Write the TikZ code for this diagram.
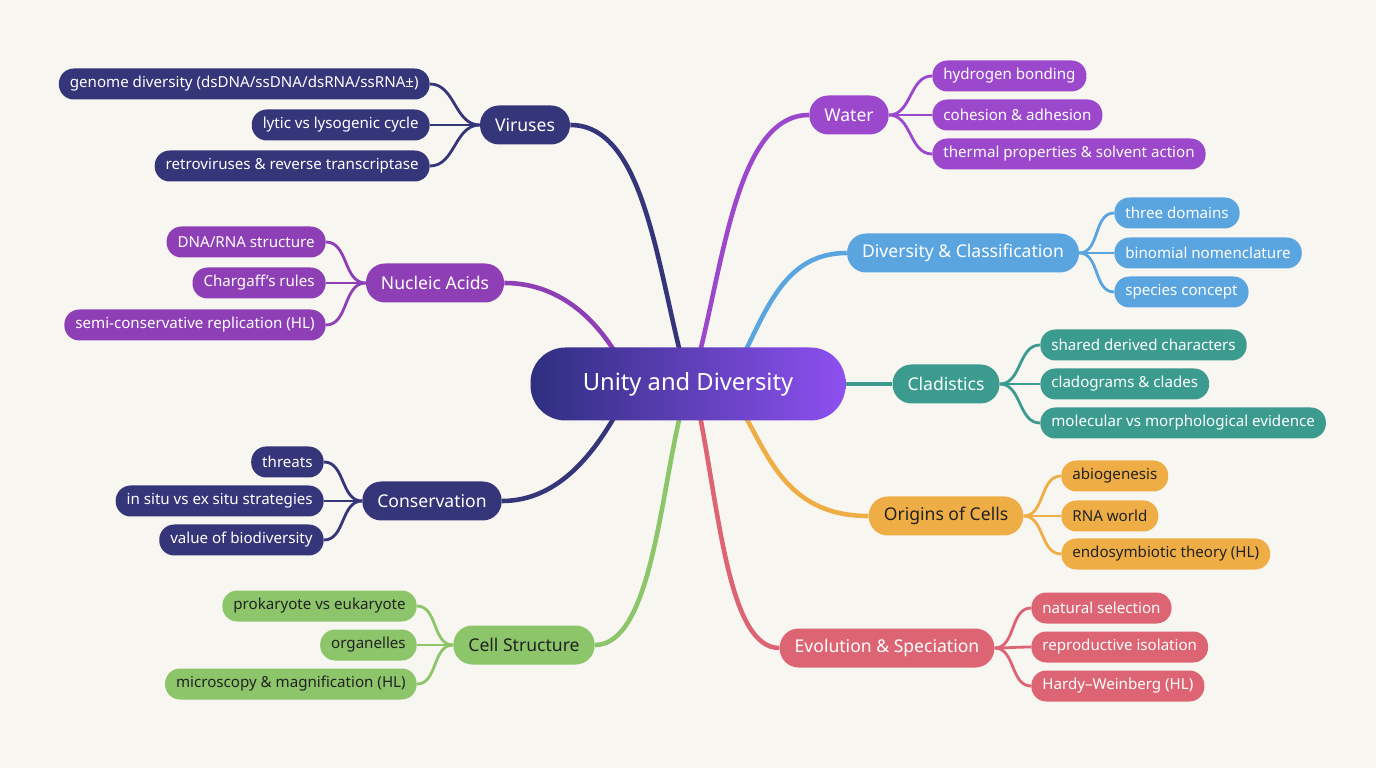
\documentclass[tikz,border=0pt]{standalone}
\usepackage{fontspec}
\setmainfont{Noto Sans}
\definecolor{bgcream}{HTML}{F8F6F1}
\definecolor{navy}{HTML}{35357A}
\definecolor{nuclpurple}{HTML}{8E3FB5}
\definecolor{waterpurple}{HTML}{9B48CC}
\definecolor{divblue}{HTML}{5AA5E0}
\definecolor{cladteal}{HTML}{3A9B8E}
\definecolor{origorange}{HTML}{EFAE45}
\definecolor{evored}{HTML}{DD6473}
\definecolor{cellgreen}{HTML}{8CC56A}
\definecolor{hubleft}{HTML}{2E2F80}
\definecolor{hubright}{HTML}{8E50F0}
\definecolor{darktext}{HTML}{222222}
\tikzset{
  leaf/.style={draw=none, fill=#1, rounded corners=3mm, text=white, minimum height=6.2mm, inner xsep=2.2mm, font=\fontsize{8.6}{10}\selectfont},
  branch/.style={draw=none, fill=#1, rounded corners=3.8mm, text=white, minimum height=7.8mm, inner xsep=3mm, font=\fontsize{10}{12}\selectfont},
  stem/.style={#1, line width=2.6pt},
  twig/.style={#1, line width=1.6pt},
}
\begin{document}
\begin{tikzpicture}[x=0.2mm, y=-0.2mm]
\fill[bgcream] (0,0) rectangle (1376,768);
\useasboundingbox (0,0) rectangle (1376,768);

% branch links (drawn first, under the nodes)
\coordinate (hV) at (680,352);
\coordinate (hN) at (615,352);
\coordinate (hC) at (615,416);
\coordinate (hS) at (680,416);
\coordinate (hW) at (700,352);
\coordinate (hD) at (745,352);
\coordinate (hK) at (840,384);
\coordinate (hO) at (745,416);
\coordinate (hE) at (700,416);

% branches
\node[branch=navy] (vir) at (525,125) {Viruses};
\node[branch=nuclpurple] (nuc) at (435,283) {Nucleic Acids};
\node[branch=navy] (cons) at (432,501) {Conservation};
\node[branch=cellgreen, text=darktext] (cell) at (524,645) {Cell Structure};
\node[branch=waterpurple] (wat) at (849,115) {Water};
\node[branch=divblue] (div) at (963,253) {Diversity \& Classification};
\node[branch=cladteal] (clad) at (946,384) {Cladistics};
\node[branch=origorange, text=darktext] (orig) at (946,516) {Origins of Cells};
\node[branch=evored] (evo) at (887,648) {Evolution \& Speciation};

\draw[stem=navy] (vir.east) .. controls (640,125) and (655,250) .. (hV);
\draw[stem=nuclpurple] (nuc.east) .. controls (560,283) and (595,320) .. (hN);
\draw[stem=navy] (cons.east) .. controls (560,501) and (595,450) .. (hC);
\draw[stem=cellgreen] (cell.east) .. controls (650,645) and (660,500) .. (hS);
\draw[stem=waterpurple] (wat.west) .. controls (740,115) and (725,250) .. (hW);
\draw[stem=divblue] (div.west) .. controls (790,253) and (770,300) .. (hD);
\draw[stem=cladteal] (clad.west) -- (hK);
\draw[stem=origorange] (orig.west) .. controls (790,516) and (770,460) .. (hO);
\draw[stem=evored] (evo.west) .. controls (730,648) and (720,520) .. (hE);

% hub
\node[draw=none, rounded corners=7mm, left color=hubleft, right color=hubright, text=white,
  minimum width=63mm, minimum height=14.6mm, font=\fontsize{13.5}{16}\bfseries] (hub) at (688,384) {Unity and Diversity};

% leaves on the left
\node[leaf=navy, anchor=east] (v1) at (430,84) {genome diversity (dsDNA/ssDNA/dsRNA/ssRNA±)};
\node[leaf=navy, anchor=east] (v2) at (430,125) {lytic vs lysogenic cycle};
\node[leaf=navy, anchor=east] (v3) at (430,166) {retroviruses \& reverse transcriptase};
\node[leaf=nuclpurple, anchor=east] (n1) at (326,242) {DNA/RNA structure};
\node[leaf=nuclpurple, anchor=east] (n2) at (326,283) {Chargaff's rules};
\node[leaf=nuclpurple, anchor=east] (n3) at (326,325) {semi-conservative replication (HL)};
\node[leaf=navy, anchor=east] (c1) at (324,462) {threats};
\node[leaf=navy, anchor=east] (c2) at (324,501) {in situ vs ex situ strategies};
\node[leaf=navy, anchor=east] (c3) at (324,540) {value of biodiversity};
\node[leaf=cellgreen, text=darktext, anchor=east] (s1) at (417,606) {prokaryote vs eukaryote};
\node[leaf=cellgreen, text=darktext, anchor=east] (s2) at (417,645) {organelles};
\node[leaf=cellgreen, text=darktext, anchor=east] (s3) at (417,684) {microscopy \& magnification (HL)};

% leaves on the right
\node[leaf=waterpurple, anchor=west] (w1) at (932,76) {hydrogen bonding};
\node[leaf=waterpurple, anchor=west] (w2) at (932,115) {cohesion \& adhesion};
\node[leaf=waterpurple, anchor=west] (w3) at (932,154) {thermal properties \& solvent action};
\node[leaf=divblue, anchor=west] (d1) at (1114,213) {three domains};
\node[leaf=divblue, anchor=west] (d2) at (1114,253) {binomial nomenclature};
\node[leaf=divblue, anchor=west] (d3) at (1114,292) {species concept};
\node[leaf=cladteal, anchor=west] (k1) at (1040,345) {shared derived characters};
\node[leaf=cladteal, anchor=west] (k2) at (1040,384) {cladograms \& clades};
\node[leaf=cladteal, anchor=west] (k3) at (1040,423) {molecular vs morphological evidence};
\node[leaf=origorange, text=darktext, anchor=west] (o1) at (1061,476) {abiogenesis};
\node[leaf=origorange, text=darktext, anchor=west] (o2) at (1061,516) {RNA world};
\node[leaf=origorange, text=darktext, anchor=west] (o3) at (1061,554) {endosymbiotic theory (HL)};
\node[leaf=evored, anchor=west] (e1) at (1031,608) {natural selection};
\node[leaf=evored, anchor=west] (e2) at (1031,647) {reproductive isolation};
\node[leaf=evored, anchor=west] (e3) at (1031,686) {Hardy–Weinberg (HL)};

% twigs
\foreach \l in {v1,v2,v3} \draw[twig=navy] (vir.west) to[out=180,in=0] (\l.east);
\foreach \l in {n1,n2,n3} \draw[twig=nuclpurple] (nuc.west) to[out=180,in=0] (\l.east);
\foreach \l in {c1,c2,c3} \draw[twig=navy] (cons.west) to[out=180,in=0] (\l.east);
\foreach \l in {s1,s2,s3} \draw[twig=cellgreen] (cell.west) to[out=180,in=0] (\l.east);
\foreach \l in {w1,w2,w3} \draw[twig=waterpurple] (wat.east) to[out=0,in=180] (\l.west);
\foreach \l in {d1,d2,d3} \draw[twig=divblue] (div.east) to[out=0,in=180] (\l.west);
\foreach \l in {k1,k2,k3} \draw[twig=cladteal] (clad.east) to[out=0,in=180] (\l.west);
\foreach \l in {o1,o2,o3} \draw[twig=origorange] (orig.east) to[out=0,in=180] (\l.west);
\foreach \l in {e1,e2,e3} \draw[twig=evored] (evo.east) to[out=0,in=180] (\l.west);
\end{tikzpicture}
\end{document}
